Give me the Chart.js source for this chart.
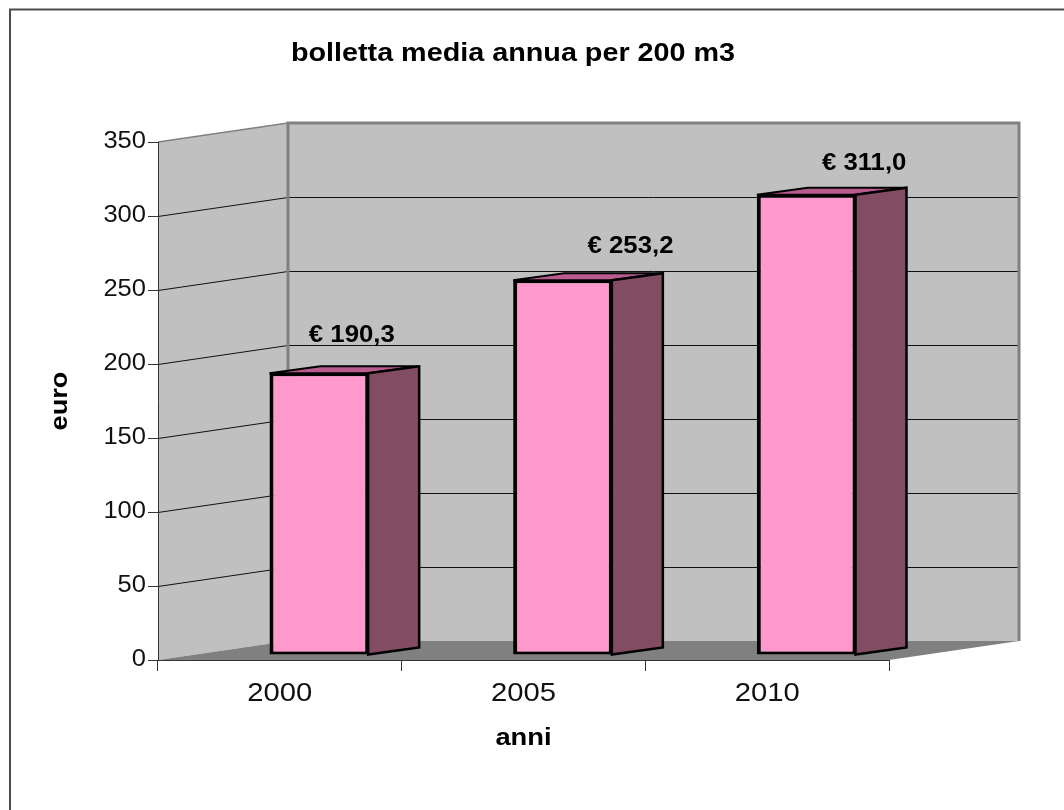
<!DOCTYPE html>
<html>
<head>
<meta charset="utf-8">
<style>html,body{margin:0;padding:0;background:#fff}#w{position:relative;width:1064px;height:810px}</style>
<script src="https://cdn.jsdelivr.net/npm/chart.js@4"></script>
</head>
<body>
<div id="w"><canvas id="c" width="1064" height="810"></canvas></div>
<script>
const categories = ['2000', '2005', '2010'];
const bolletta = [190.3, 253.2, 311.0];
const dataLabels = ['€ 190,3', '€ 253,2', '€ 311,0'];
const yTicks = [0, 50, 100, 150, 200, 250, 300, 350];
const titleText = 'bolletta media annua per 200 m3';
const xTitle = 'anni';
const yTitle = 'euro';

const FONT = '"Liberation Sans", Arial, sans-serif';
const wall = { dx: 130, dy: -19 };        // depth of the 3D box
const barShift = { dx: 39, dy: -5 };      // bars stand inside the box
const barDepth = { dx: 51, dy: -7 };
const labelShift = [[33, -38], [68, -34], [58, -31]];

function poly(ctx, pts, fill, stroke, lw) {
  ctx.beginPath();
  pts.forEach((p, i) => i ? ctx.lineTo(p[0], p[1]) : ctx.moveTo(p[0], p[1]));
  ctx.closePath();
  if (fill) { ctx.fillStyle = fill; ctx.fill(); }
  if (stroke) { ctx.strokeStyle = stroke; ctx.lineWidth = lw; ctx.lineJoin = 'miter'; ctx.stroke(); }
}

// the reference text is horizontally stretched: apply that when text is painted
function stretchedText(ctx, sx, text, x, y) {
  ctx.save();
  ctx.translate(x, y);
  ctx.scale(sx, 1);
  CanvasRenderingContext2D.prototype.fillText.call(ctx, text, 0, 0);
  ctx.restore();
}
function stretched(ctx, obj, method, sx) {
  const original = obj[method];
  obj[method] = function (...args) {
    ctx.fillText = (t, x, y) => stretchedText(ctx, sx, t, x, y);
    original.apply(this, args);
    delete ctx.fillText;
  };
}

const box3d = {
  id: 'box3d',
  beforeDraw(chart) {
    const { ctx, scales: { x, y } } = chart;
    const L = x.left, R = x.right, T = y.getPixelForValue(350), B = y.getPixelForValue(0);
    const d = wall;
    ctx.save();
    // page frame
    ctx.strokeStyle = '#4d4d4d'; ctx.lineWidth = 2;
    ctx.beginPath(); ctx.moveTo(10, 810); ctx.lineTo(10, 9.5); ctx.lineTo(1064, 9.5); ctx.stroke();
    // side wall and back wall
    poly(ctx, [[L, T], [L + d.dx, T + d.dy], [L + d.dx, B + d.dy], [L, B]], '#c0c0c0');
    poly(ctx, [[L + d.dx, T + d.dy], [R + d.dx, T + d.dy], [R + d.dx, B + d.dy], [L + d.dx, B + d.dy]], '#c0c0c0');
    // floor
    poly(ctx, [[L, B], [R, B], [R + d.dx, B + d.dy], [L + d.dx, B + d.dy]], '#808080');
    // grid lines
    ctx.strokeStyle = '#111'; ctx.lineWidth = 1;
    yTicks.slice(1, -1).forEach(v => {
      const p = Math.round(y.getPixelForValue(v)) + 0.5;
      ctx.beginPath();
      ctx.moveTo(L, p); ctx.lineTo(L + d.dx, p + d.dy); ctx.lineTo(R + d.dx, p + d.dy);
      ctx.stroke();
    });
    // wall edges
    ctx.strokeStyle = '#808080'; ctx.lineWidth = 3;
    ctx.beginPath();
    ctx.moveTo(L + d.dx, B + d.dy); ctx.lineTo(L + d.dx, T + d.dy); ctx.lineTo(R + d.dx, T + d.dy); ctx.lineTo(R + d.dx, B + d.dy);
    ctx.stroke();
    ctx.lineWidth = 1.5;
    ctx.beginPath(); ctx.moveTo(L, T); ctx.lineTo(L + d.dx, T + d.dy); ctx.stroke();
    ctx.restore();
  },
  beforeDatasetsDraw(chart) {
    chart.ctx.save();
    chart.ctx.translate(barShift.dx, barShift.dy);
  },
  afterDatasetsDraw(chart) {
    const { ctx } = chart;
    const meta = chart.getDatasetMeta(0);
    meta.data.forEach(bar => {
      const hw = bar.width / 2, l = bar.x - hw, r = bar.x + hw, t = bar.y, b = bar.base;
      const d = barDepth;
      poly(ctx, [[l, t], [l + d.dx, t + d.dy], [r + d.dx, t + d.dy], [r, t]], '#b85c90', '#000', 2);
      poly(ctx, [[r, t], [r + d.dx, t + d.dy], [r + d.dx, b + d.dy], [r, b]], '#824d63', '#000', 2.5);
    });
    ctx.restore();
    ctx.save();
    ctx.font = 'bold 23px ' + FONT;
    ctx.fillStyle = '#000';
    ctx.textAlign = 'center';
    ctx.textBaseline = 'middle';
    meta.data.forEach((bar, i) => {
      stretchedText(ctx, 1.12, dataLabels[i], bar.x + barShift.dx + labelShift[i][0], bar.y + barShift.dy + labelShift[i][1]);
    });
    ctx.restore();
  },
  afterLayout(chart) {
    if (chart.titleBlock) { chart.titleBlock.left = 0; chart.titleBlock.right = 1026; }
    if (chart.$stretched) return;
    chart.$stretched = true;
    const { ctx, scales: { x, y } } = chart;
    stretched(ctx, chart.titleBlock, 'draw', 1.15);
    stretched(ctx, x, 'drawLabels', 1.17);
    stretched(ctx, y, 'drawLabels', 1.11);
    stretched(ctx, x, 'drawTitle', 1.14);
    stretched(ctx, y, 'drawTitle', 1.13);
  }
};

new Chart(document.getElementById('c'), {
  type: 'bar',
  data: {
    labels: categories,
    datasets: [{
      data: bolletta,
      backgroundColor: '#ff99cc',
      borderColor: '#000',
      borderWidth: { left: 4, top: 3, right: 3, bottom: 3 },
      borderSkipped: false,
      barPercentage: 0.405,
      categoryPercentage: 1,
      clip: false
    }]
  },
  plugins: [box3d],
  options: {
    responsive: false,
    animation: false,
    events: [],
    layout: { padding: { left: 0, right: 175, top: 0, bottom: 0 } },
    plugins: {
      legend: { display: false },
      tooltip: { enabled: false },
      title: {
        display: true,
        text: titleText,
        color: '#000',
        font: { family: FONT, size: 25, weight: 'bold', lineHeight: 1.2 },
        padding: { top: 39, bottom: 73 }
      }
    },
    scales: {
      x: {
        offset: true,
        afterFit(s) { s.height = 150; },
        border: { display: true, color: '#333', width: 1 },
        grid: { display: true, offset: true, drawOnChartArea: false, drawTicks: true, tickLength: 11, tickColor: '#333', tickWidth: 1 },
        ticks: { color: '#111', font: { family: FONT, size: 25 }, padding: 8, maxRotation: 0 },
        title: { display: true, text: xTitle, color: '#000', font: { family: FONT, size: 24, weight: 'bold' }, padding: { top: 16, bottom: 57 } }
      },
      y: {
        min: 0,
        max: 350,
        afterFit(s) { s.width = 158; },
        afterBuildTicks(s) { s.ticks = yTicks.map(v => ({ value: v })); },
        border: { display: true, color: '#333', width: 1 },
        grid: { display: true, drawOnChartArea: false, drawTicks: true, tickLength: 10, tickColor: '#333', tickWidth: 1 },
        ticks: { color: '#111', font: { family: FONT, size: 23 }, padding: 2 },
        title: { display: true, text: yTitle, color: '#000', font: { family: FONT, size: 24, weight: 'bold' }, padding: { top: 46, bottom: 0 } }
      }
    }
  }
});
</script>
</body>
</html>
